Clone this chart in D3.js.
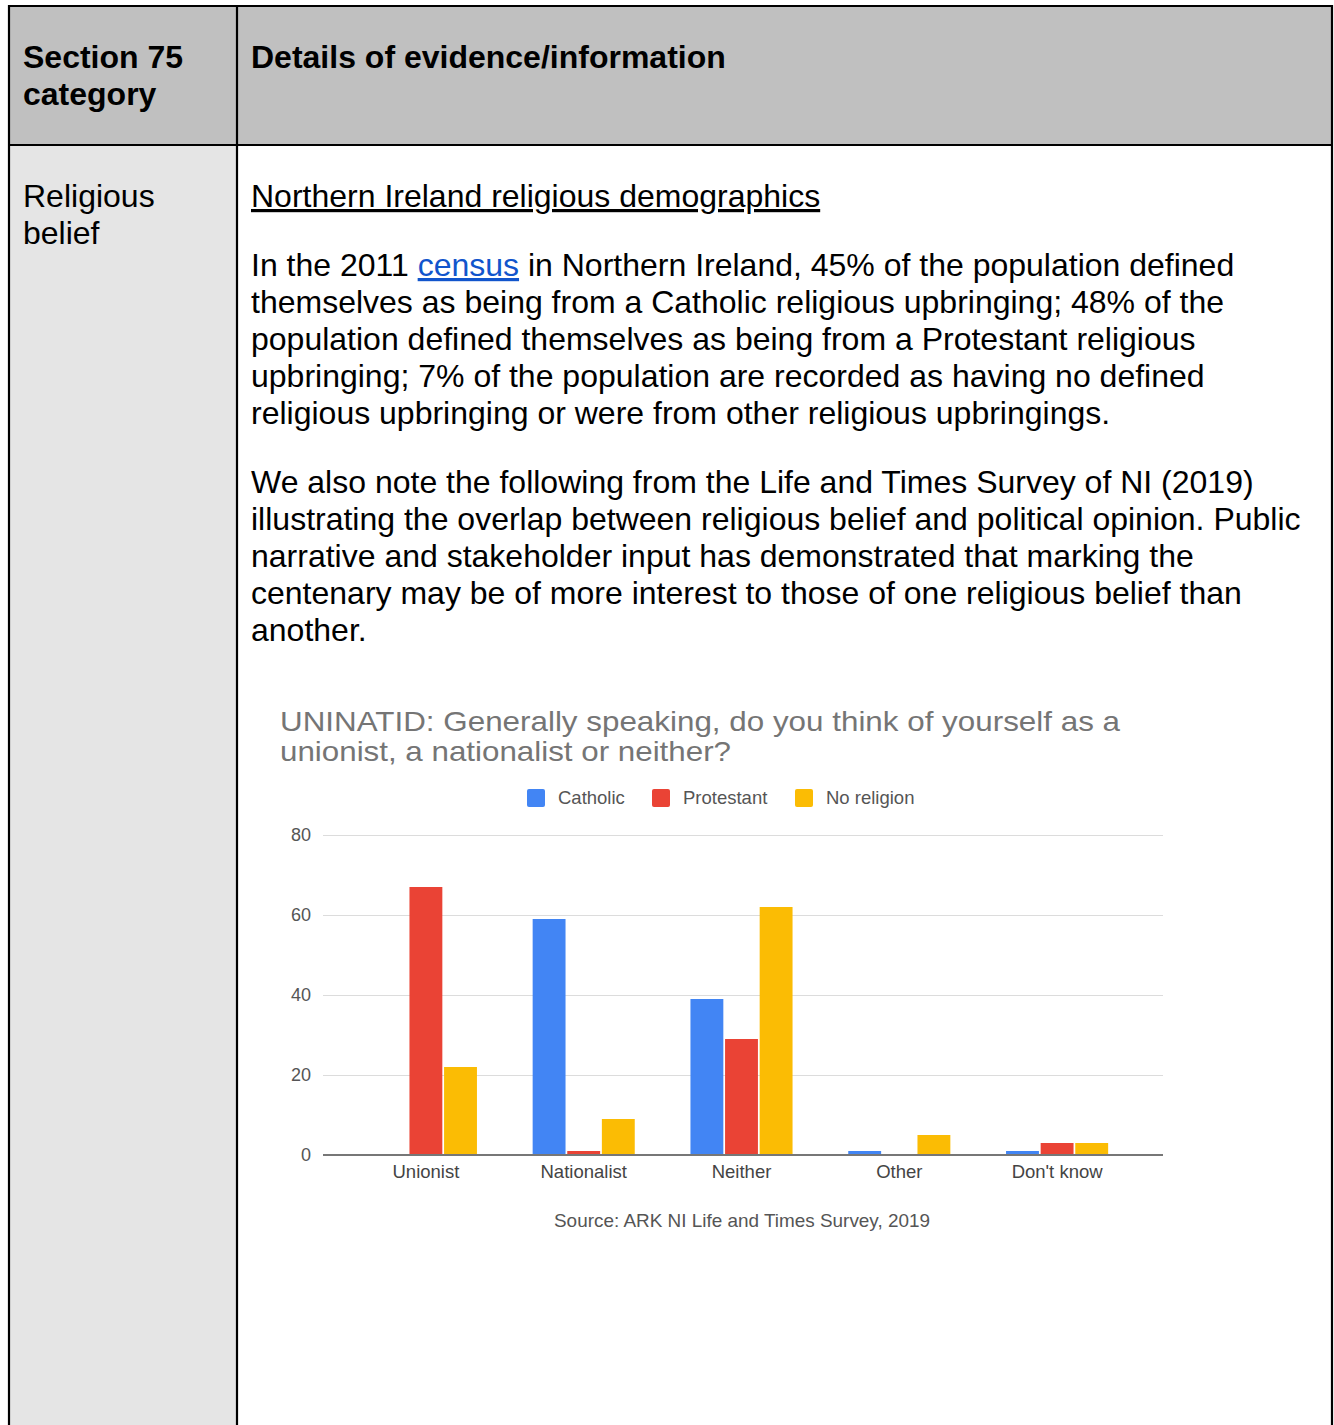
<!DOCTYPE html>
<html>
<head>
<meta charset="utf-8">
<script src="https://cdn.jsdelivr.net/npm/d3@7"></script>
<style>
  body { margin: 0; background: #fff; }
  svg text { font-family: "Liberation Sans", Arial, sans-serif; }
</style>
</head>
<body>
<svg id="page"></svg>
<script>
// chart data
var categories = ["Unionist", "Nationalist", "Neither", "Other", "Don't know"];
var seriesNames = ["Catholic", "Protestant", "No religion"];
var catholic = [0, 59, 39, 1, 1];
var protestant = [67, 1, 29, 0, 3];
var noReligion = [22, 9, 62, 5, 3];
var yTicks = [0, 20, 40, 60, 80];
var seriesColors = ["#4285f4", "#ea4335", "#fbbc04"];

// document text
var headerLeft = ["Section 75", "category"];
var headerRight = "Details of evidence/information";
var rowLabel = ["Religious", "belief"];
var heading = "Northern Ireland religious demographics";
var para1 = [
  ["In the 2011 ", "census", " in Northern Ireland, 45% of the population defined"],
  "themselves as being from a Catholic religious upbringing; 48% of the",
  "population defined themselves as being from a Protestant religious",
  "upbringing; 7% of the population are recorded as having no defined",
  "religious upbringing or were from other religious upbringings."
];
var para2 = [
  "We also note the following from the Life and Times Survey of NI (2019)",
  "illustrating the overlap between religious belief and political opinion. Public",
  "narrative and stakeholder input has demonstrated that marking the",
  "centenary may be of more interest to those of one religious belief than",
  "another."
];
var chartTitle = ["UNINATID: Generally speaking, do you think of yourself as a",
                  "unionist, a nationalist or neither?"];
var sourceNote = "Source: ARK NI Life and Times Survey, 2019";

var width = 1334, height = 1425;
var svg = d3.select("#page").attr("width", width).attr("height", height);

// table cells
var tbl = { left: 9, right: 1332, top: 6, split: 237, headBottom: 145 };
svg.append("rect").attr("x", tbl.left).attr("y", tbl.top)
  .attr("width", tbl.right - tbl.left).attr("height", tbl.headBottom - tbl.top)
  .attr("fill", "#c0c0c0");
svg.append("rect").attr("x", tbl.left).attr("y", tbl.headBottom)
  .attr("width", tbl.split - tbl.left).attr("height", height - tbl.headBottom + 10)
  .attr("fill", "#e5e5e5");

var borders = svg.append("g").attr("stroke", "#000").attr("stroke-width", 2.2);
borders.append("line").attr("x1", tbl.left).attr("x2", tbl.right).attr("y1", tbl.top).attr("y2", tbl.top);
borders.append("line").attr("x1", tbl.left).attr("x2", tbl.right).attr("y1", tbl.headBottom).attr("y2", tbl.headBottom);
borders.append("line").attr("x1", tbl.left).attr("x2", tbl.left).attr("y1", tbl.top - 1).attr("y2", height + 5);
borders.append("line").attr("x1", tbl.right).attr("x2", tbl.right).attr("y1", tbl.top - 1).attr("y2", height + 5);
borders.append("line").attr("x1", tbl.split).attr("x2", tbl.split).attr("y1", tbl.top).attr("y2", height + 5);

// header text
headerLeft.forEach(function(t, i) {
  svg.append("text").attr("x", 23).attr("y", 68 + i * 37)
    .style("font-size", "32px").style("font-weight", "bold").text(t);
});
svg.append("text").attr("x", 251).attr("y", 68)
  .style("font-size", "32px").style("font-weight", "bold").text(headerRight);

rowLabel.forEach(function(t, i) {
  svg.append("text").attr("x", 23).attr("y", 207 + i * 37)
    .style("font-size", "32px").text(t);
});

svg.append("text").attr("x", 251).attr("y", 207)
  .style("font-size", "32px").style("text-decoration", "underline").text(heading);

// paragraphs
function drawPara(lines, y0) {
  lines.forEach(function(line, i) {
    var t = svg.append("text").attr("x", 251).attr("y", y0 + i * 37).style("font-size", "32px");
    if (Array.isArray(line)) {
      t.append("tspan").text(line[0]);
      t.append("tspan").attr("fill", "#1155cc").style("text-decoration", "underline").text(line[1]);
      t.append("tspan").text(line[2]);
    } else {
      t.text(line);
    }
  });
}
drawPara(para1, 276);
drawPara(para2, 493);

// chart
var chart = svg.append("g").attr("class", "chart");

var titleLen = [840, 451];
chartTitle.forEach(function(t, i) {
  chart.append("text").attr("x", 280).attr("y", 731 + i * 30)
    .attr("textLength", titleLen[i]).attr("lengthAdjust", "spacingAndGlyphs")
    .attr("fill", "#757575").style("font-size", "28px").text(t);
});

// legend
var legendX = [527, 652, 795];
seriesNames.forEach(function(name, i) {
  chart.append("rect").attr("x", legendX[i]).attr("y", 789)
    .attr("width", 18).attr("height", 18).attr("rx", 2)
    .attr("fill", seriesColors[i]);
  chart.append("text").attr("x", legendX[i] + 31).attr("y", 804)
    .attr("fill", "#555").style("font-size", "18.5px").text(name);
});

var plot = { left: 323, right: 1163, top: 835, bottom: 1155 };

var yScale = d3.scaleLinear().domain([0, 80]).range([plot.bottom, plot.top]);
var xScale = d3.scaleBand().domain(categories).range([347, 1136])
  .paddingInner(0.353).paddingOuter(0.1765);
var xInner = d3.scaleBand().domain(seriesNames).range([0, xScale.bandwidth()])
  .paddingInner(0.05);

// gridlines + tick labels
var yAxis = d3.axisLeft(yScale).tickValues(yTicks)
  .tickSize(-(plot.right - plot.left)).tickPadding(12);
var yg = chart.append("g").attr("transform", "translate(" + plot.left + ",0)").call(yAxis);
yg.select(".domain").remove();
yg.selectAll(".tick line").attr("stroke", "#dcdcdc").attr("stroke-width", 1.2);
yg.selectAll(".tick text").attr("fill", "#555").style("font-size", "18px")
  .style("font-family", "'Liberation Sans', Arial, sans-serif");

// bars
var rows = categories.map(function(c, i) {
  return { cat: c, values: [catholic[i], protestant[i], noReligion[i]] };
});
var groups = chart.selectAll(".grp").data(rows).enter().append("g")
  .attr("transform", function(d) { return "translate(" + xScale(d.cat) + ",0)"; });
groups.selectAll("rect")
  .data(function(d) { return d.values.map(function(v, j) { return { v: v, s: seriesNames[j], c: seriesColors[j] }; }); })
  .enter().filter(function(d) { return d.v > 0; }).append("rect")
  .attr("x", function(d) { return xInner(d.s); })
  .attr("y", function(d) { return yScale(d.v); })
  .attr("width", xInner.bandwidth())
  .attr("height", function(d) { return plot.bottom - yScale(d.v); })
  .attr("fill", function(d) { return d.c; });

// baseline
chart.append("line").attr("x1", plot.left).attr("x2", plot.right)
  .attr("y1", yScale(0)).attr("y2", yScale(0))
  .attr("stroke", "#777").attr("stroke-width", 2);

// category labels
var xAxis = d3.axisBottom(xScale).tickSize(0).tickPadding(10);
var xg = chart.append("g").attr("transform", "translate(0," + plot.bottom + ")").call(xAxis);
xg.select(".domain").remove();
xg.selectAll(".tick text").attr("fill", "#444").style("font-size", "18.5px")
  .style("font-family", "'Liberation Sans', Arial, sans-serif");

chart.append("text").attr("x", 742).attr("y", 1227).attr("text-anchor", "middle")
  .attr("textLength", 376).attr("lengthAdjust", "spacingAndGlyphs")
  .attr("fill", "#555").style("font-size", "18.5px").text(sourceNote);
</script>
</body>
</html>
